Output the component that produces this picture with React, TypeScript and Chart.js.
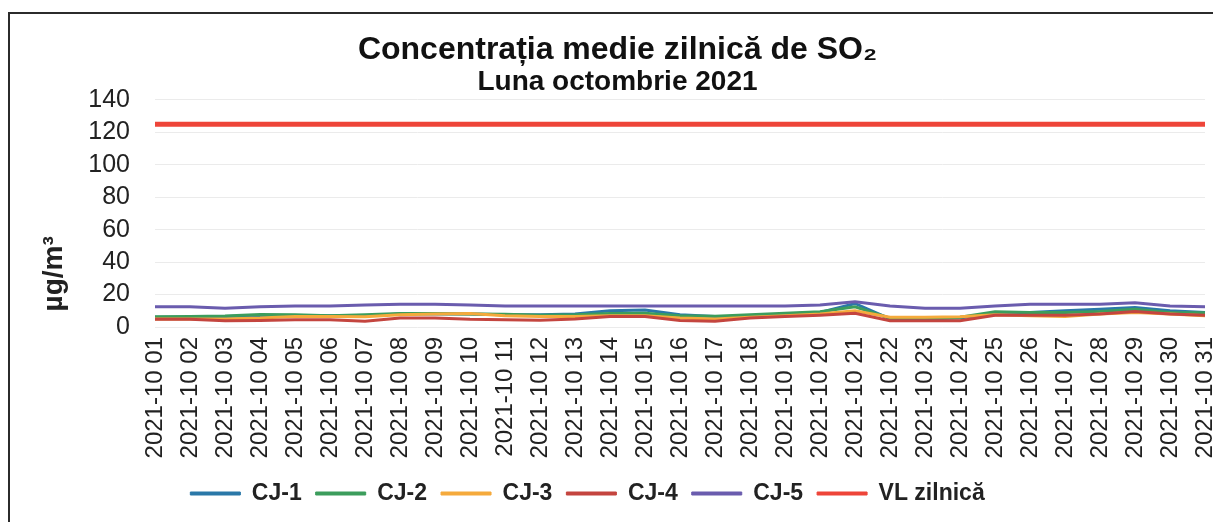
import React, { useEffect, useRef } from "react";
import { Chart, registerables } from "chart.js";

Chart.register(...registerables);

const FONT = '"Liberation Sans", Arial, Helvetica, sans-serif';

const DAYS = [
  "2021-10 01", "2021-10 02", "2021-10 03", "2021-10 04", "2021-10 05", "2021-10 06",
  "2021-10 07", "2021-10 08", "2021-10 09", "2021-10 10", "2021-10 11", "2021-10 12",
  "2021-10 13", "2021-10 14", "2021-10 15", "2021-10 16", "2021-10 17", "2021-10 18",
  "2021-10 19", "2021-10 20", "2021-10 21", "2021-10 22", "2021-10 23", "2021-10 24",
  "2021-10 25", "2021-10 26", "2021-10 27", "2021-10 28", "2021-10 29", "2021-10 30",
  "2021-10 31",
];

const CJ1 = [6, 6, 6.5, 7, 7, 7, 7, 8, 8, 8, 7.5, 7.5, 8, 10, 10.5, 7.5, 6.5, 6.5, 8, 9, 14.5, 5, 5, 5.5, 8.5, 9, 10, 11, 12, 10, 9];
const CJ2 = [6.3, 6.5, 6.8, 7.7, 7.5, 7, 7.5, 8.3, 8.3, 8, 7.8, 7.3, 7.5, 8.3, 8.5, 7, 6.7, 7.5, 8.5, 9.4, 12.5, 5.5, 5.5, 6, 9.4, 9, 9, 9.5, 11, 9, 8.8];
const CJ3 = [5, 5, 5, 5.5, 6.5, 6.5, 6.3, 7.5, 8, 8.3, 7, 6.5, 6.5, 7, 7, 5.5, 5, 6, 7, 8, 10, 6, 6, 6.3, 7.5, 7, 6.5, 8, 9, 8, 7];
const CJ4 = [4.8, 4.8, 3.8, 4, 4.5, 4.4, 3.5, 5.6, 5.6, 4.8, 4.5, 4.2, 5, 6.5, 6.5, 4, 3.5, 5.6, 6.5, 7.3, 8.5, 3.8, 3.8, 3.8, 7.3, 7.3, 7.3, 8, 9.5, 8, 7.3];
const CJ5 = [12.5, 12.5, 11.5, 12.5, 13, 13, 13.5, 14, 14, 13.5, 13, 13, 13, 13, 13, 13, 13, 13, 13, 13.5, 15.5, 13, 11.5, 11.5, 13, 14, 14, 14, 15, 13, 12.5];
const VL_ZILNICA = [125, 125, 125, 125, 125, 125, 125, 125, 125, 125, 125, 125, 125, 125, 125, 125, 125, 125, 125, 125, 125, 125, 125, 125, 125, 125, 125, 125, 125, 125, 125];

const SERIES_NAMES = ["CJ-1", "CJ-2", "CJ-3", "CJ-4", "CJ-5", "VL zilnică"];
const SERIES_COLORS = ["#2a78a8", "#3c9d5c", "#f5aa3c", "#c4453f", "#6a5cae", "#ee4539"];
const SERIES_WIDTHS = [3, 3, 3, 3, 3, 5];
const SERIES_ORDER = [6, 5, 4, 3, 2, 1];

const Y_TICKS = { min: 0, max: 140, step: 20 };
const TITLE_TEXT = "Concentrația medie zilnică de SO₂";
const SUBTITLE_TEXT = "Luna octombrie 2021";
const Y_TITLE = "  µg/m³";

const boxShift = {
  id: "boxShift",
  afterLayout(chart: any) {
    if (chart.legend) {
      chart.legend.left -= 20;
      chart.legend.right -= 20;
    }
    (chart.boxes || []).forEach((b: any) => {
      if (b && b.options && b.options.position === "top" && !b.axis) {
        b.left += 10;
        b.right += 10;
      }
    });
  },
};

export default function App() {
  const ref = useRef<HTMLCanvasElement>(null);

  useEffect(() => {
    document.documentElement.style.overflow = "hidden";
    document.body.style.overflow = "hidden";
    const values = [CJ1, CJ2, CJ3, CJ4, CJ5, VL_ZILNICA];
    const chart = new Chart(ref.current as HTMLCanvasElement, {
      type: "line",
      data: {
        labels: DAYS,
        datasets: values.map((d, i) => ({
          label: SERIES_NAMES[i],
          data: d,
          borderColor: SERIES_COLORS[i],
          backgroundColor: SERIES_COLORS[i],
          borderWidth: SERIES_WIDTHS[i],
          pointRadius: 0,
          tension: 0,
          order: SERIES_ORDER[i],
        })),
      },
      plugins: [boxShift],
      options: {
        responsive: true,
        maintainAspectRatio: false,
        animation: false,
        layout: { padding: { left: 0, right: 11, top: 0, bottom: 9 } },
        plugins: {
          tooltip: { enabled: false },
          title: {
            display: true,
            text: TITLE_TEXT,
            color: "#111",
            font: { family: FONT, size: 32, weight: "bold", lineHeight: 1.05 },
            padding: { top: 19, bottom: 0 },
          },
          subtitle: {
            display: true,
            text: SUBTITLE_TEXT,
            color: "#111",
            font: { family: FONT, size: 28, weight: "bold", lineHeight: 1.15 },
            padding: { top: 0, bottom: 1 },
          },
          legend: {
            position: "bottom",
            labels: {
              boxWidth: 50,
              boxHeight: 3,
              padding: 14,
              color: "#222",
              font: { family: FONT, size: 23, weight: "bold" },
              sort: (a: any, b: any) => a.datasetIndex - b.datasetIndex,
              generateLabels: (c: any) =>
                Chart.defaults.plugins.legend.labels
                  .generateLabels(c)
                  .map((it: any) => ({ ...it, lineWidth: 1 })),
            },
          },
        },
        scales: {
          x: {
            grid: { display: false, drawTicks: false },
            border: { display: false },
            ticks: {
              autoSkip: false,
              minRotation: 90,
              maxRotation: 90,
              padding: 10,
              color: "#222",
              font: { family: FONT, size: 24 },
            },
            afterFit: (s: any) => {
              s.height = 141;
              s.paddingRight = 0;
              s.paddingLeft = 0;
            },
          },
          y: {
            min: Y_TICKS.min,
            max: Y_TICKS.max,
            grid: { color: "#ebebeb", drawTicks: false },
            border: { display: false },
            ticks: {
              stepSize: Y_TICKS.step,
              autoSkip: false,
              padding: 25,
              color: "#222",
              font: { family: FONT, size: 25 },
            },
            title: {
              display: true,
              text: Y_TITLE,
              align: "start",
              color: "#222",
              font: { family: FONT, size: 28, weight: "bold" },
              padding: { top: 27, bottom: 0 },
            },
            afterFit: (s: any) => {
              s.width = 145;
            },
          },
        },
      },
    } as any);
    return () => chart.destroy();
  }, []);

  return (
    <div
      style={{
        position: "relative",
        top: 4,
        width: 1206,
        height: 520,
        border: "2px solid #2b2b2b",
        background: "#fff",
      }}
    >
      <div style={{ position: "relative", width: 1206, height: 510 }}>
        <canvas ref={ref} />
      </div>
    </div>
  );
}
